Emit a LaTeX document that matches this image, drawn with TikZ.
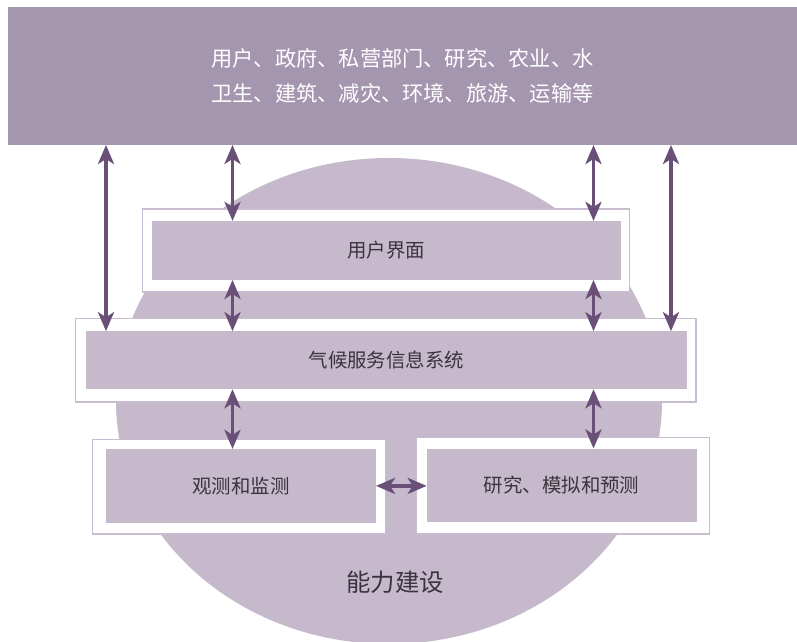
\documentclass[tikz,border=0pt]{standalone}
\usepackage{fontspec}
\setmainfont{Noto Sans CJK SC}
\usetikzlibrary{arrows.meta}
\definecolor{topfill}{RGB}{165,150,176}
\definecolor{boxfill}{RGB}{197,185,203}
\definecolor{framecol}{RGB}{200,189,208}
\definecolor{arrowcol}{RGB}{106,80,120}
\definecolor{textcol}{RGB}{58,52,60}

\tikzset{
frame/.style={draw=framecol,line width=1.5bp,fill=white},
panel/.style={fill=boxfill,text=textcol,inner sep=0pt,outer sep=0pt,
  font=\fontsize{19.5}{23}\selectfont},
biarrow/.style={draw=arrowcol,line width=3.5bp,
  {Stealth[length=19bp,width=16bp,inset=5bp]}-{Stealth[length=19bp,width=16bp,inset=5bp]}}
}

\begin{document}
\begin{tikzpicture}[x=1bp,y=-1bp]

\useasboundingbox (0,0) rectangle (797,642);

% capacity disc behind everything
\fill[boxfill] (389,401) ellipse [x radius=273bp, y radius=243bp];

% white frames
\draw[frame] (142.3,209) rectangle (629.3,292);
\draw[frame] (75.7,318.3) rectangle (696,402);
\draw[frame] (92.7,439.3) rectangle (386,534);
\draw[frame] (416.7,437.3) rectangle (709.3,534);

\node[panel,minimum width=469bp,minimum height=59bp] (ui) at (386.4,250.4) {用户界面};
\node[panel,minimum width=601bp,minimum height=58bp] (csis) at (386.4,360.2) {气候服务信息系统};
\node[panel,minimum width=270bp,minimum height=74bp] (obs) at (241,485.9) {观测和监测};
\node[panel,minimum width=270bp,minimum height=73bp] (rmp) at (561.7,485) {研究、模拟和预测};

\node[fill=topfill,text=white,inner sep=0pt,outer sep=0pt,align=center,
  minimum width=789bp,minimum height=138bp,
  font=\fontsize{21.3}{35}\selectfont] (users) at (402.5,76)
  {用户、政府、私营部门、研究、农业、水\\卫生、建筑、减灾、环境、旅游、运输等};

\node[text=textcol,font=\fontsize{24.5}{28}\selectfont] (cap) at (395,582) {能力建设};

\foreach \n/\x in {a/106,b/232.5,c/593.5,d/671}
{
\coordinate (\n) at (\x,0);
}

\draw[biarrow] (users.south -| a) -- (csis.north -| a);
\draw[biarrow] (users.south -| b) -- (ui.north -| b);
\draw[biarrow] (ui.south -| b) -- (csis.north -| b);
\draw[biarrow] (users.south -| c) -- (ui.north -| c);
\draw[biarrow] (ui.south -| c) -- (csis.north -| c);
\draw[biarrow] (users.south -| d) -- (csis.north -| d);
\draw[biarrow] (csis.south -| b) -- (obs.north -| b);
\draw[biarrow] (csis.south -| c) -- (rmp.north -| c);
\draw[biarrow] (obs.east) -- (obs.east -| rmp.west);
\end{tikzpicture}
\end{document}
